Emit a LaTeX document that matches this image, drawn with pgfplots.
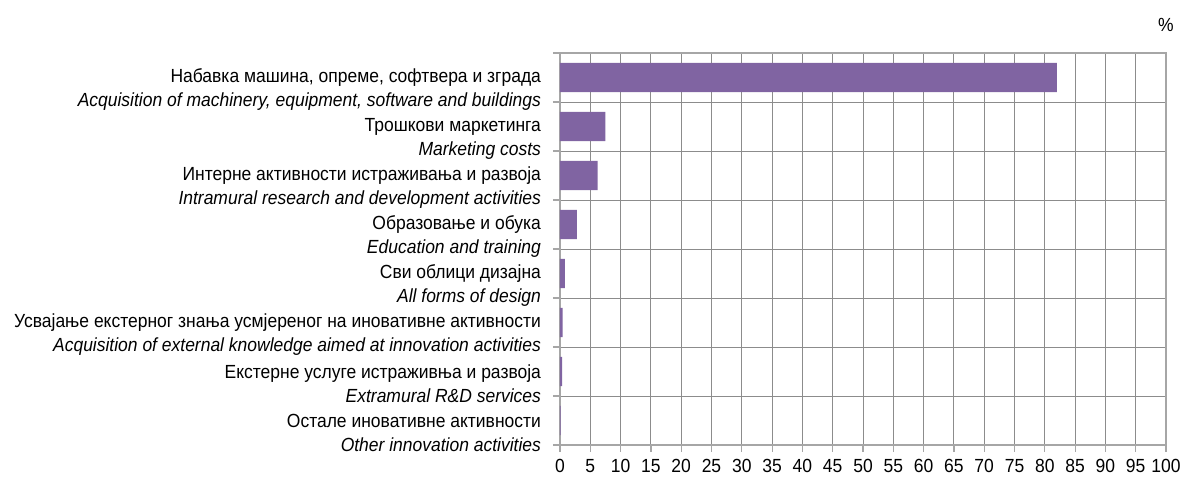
\documentclass[border=0pt]{standalone}
\usepackage{fontspec}
\setmainfont{Liberation Sans}[FakeStretch=0.92]
\usepackage{pgfplots}
\pgfplotsset{compat=1.18}
\definecolor{barc}{HTML}{8064A2}
\definecolor{gridc}{HTML}{8C8C8C}
\definecolor{axc}{HTML}{A6A6A6}
\begin{document}
\begin{tikzpicture}
\begin{axis}[
  scale only axis,
  width=303pt, height=196pt,
  xmin=0, xmax=100,
  ymin=-0.5, ymax=7.5,
  y dir=reverse,
  xtick={0,5,...,100},
  ytick={-0.5,0.5,...,7.5},
  yticklabels={},
  extra y ticks={0.25,1.25,2.25,3.25,4.25,5.25,6.25,7.25},
  extra y tick labels={
    {Набавка машина, опреме, софтвера и зграда\\\textit{Acquisition of machinery, equipment, software and buildings}},
    {Трошкови маркетинга\\\textit{Marketing costs}},
    {Интерне активности истраживања и развоја\\\textit{Intramural research and development activities}},
    {Образовање и обука\\\textit{Education and training}},
    {Сви облици дизајна\\\textit{All forms of design}},
    {Усвајање екстерног знања усмјереног на иновативне активности\\\textit{Acquisition of external knowledge aimed at innovation activities}},
    {Екстерне услуге истраживња и развоја\\\textit{Extramural R\&D services}},
    {Остале иновативне активности\\\textit{Other innovation activities}}},
  extra y tick style={major tick length=0pt, grid=none, tick style={draw=none},
    yticklabel style={align=right, font=\fontsize{9.5}{12}\selectfont, xshift=-6pt}},
  xmajorgrids, ymajorgrids,
  grid style={gridc, line width=0.5pt},
  axis line style={axc, line width=0.6pt},
  tick style={axc, line width=0.6pt},
  tick align=outside,
  major tick length=3.5pt,
  xtick pos=bottom, ytick pos=left,
  xticklabel style={font=\fontsize{9.5}{10}\selectfont},
  /pgf/number format/assume math mode=true,
  xbar, bar width=0.6,
  clip=false,
]
\addplot[fill=barc, draw=none] coordinates {
  (82.0,0) (7.5,1) (6.2,2) (2.8,3) (0.8,4) (0.45,5) (0.35,6) (0.1,7)
};
\node[font=\fontsize{9.5}{10}\selectfont] at ([yshift=14pt]rel axis cs:1,1) {\%};
\coordinate (sw) at (rel axis cs:0,0);
\coordinate (ne) at (rel axis cs:1,1);
\end{axis}
\pgfresetboundingbox
\path[use as bounding box] ([xshift=-280pt,yshift=-17.5pt]sw) rectangle ([xshift=10pt,yshift=26.5pt]ne);
\end{tikzpicture}
\end{document}
